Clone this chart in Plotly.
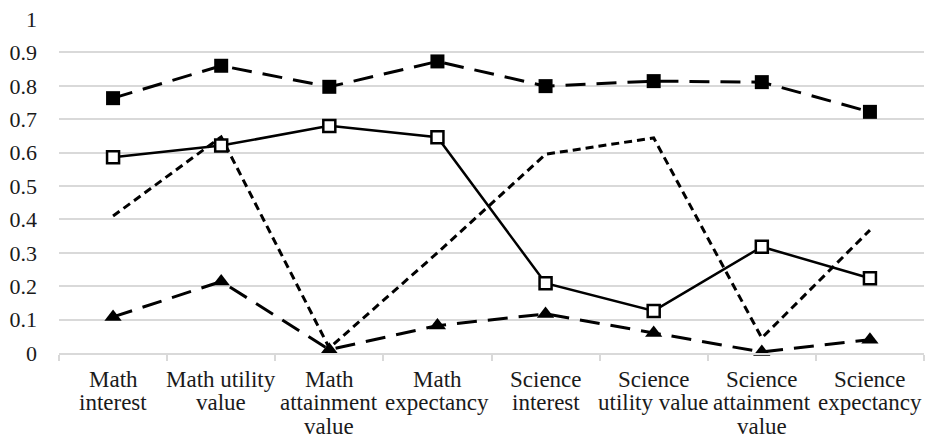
import plotly.graph_objects as go

categories = ["Math interest", "Math utility value", "Math attainment value",
              "Math expectancy", "Science interest", "Science utility value",
              "Science attainment value", "Science expectancy"]
category_label_lines = [["Math", "interest"], ["Math utility", "value"],
                        ["Math", "attainment", "value"], ["Math", "expectancy"],
                        ["Science", "interest"], ["Science", "utility value"],
                        ["Science", "attainment", "value"], ["Science", "expectancy"]]
y_tick_vals = [0, 0.1, 0.2, 0.3, 0.4, 0.5, 0.6, 0.7, 0.8, 0.9, 1]
y_tick_text = ["0", "0.1", "0.2", "0.3", "0.4", "0.5", "0.6", "0.7", "0.8", "0.9", "1"]

dotted_vals = [0.41, 0.647, 0.015, 0.30, 0.595, 0.644, 0.045, 0.368]
filled_sq_vals = [0.763, 0.86, 0.797, 0.873, 0.799, 0.814, 0.811, 0.722]
open_sq_vals = [0.586, 0.621, 0.68, 0.646, 0.209, 0.126, 0.318, 0.224]
triangle_vals = [0.108, 0.214, 0.01, 0.082, 0.117, 0.06, 0.003, 0.04]

fig = go.Figure()
fig.add_trace(go.Scatter(x=categories, y=dotted_vals, mode="lines",
                         line=dict(color="black", width=3, dash="8px,5px"),
                         cliponaxis=False))
fig.add_trace(go.Scatter(x=categories, y=filled_sq_vals, mode="lines+markers",
                         line=dict(color="black", width=3, dash="20px,11px"),
                         marker=dict(symbol="square", size=14, color="black"),
                         cliponaxis=False))
fig.add_trace(go.Scatter(x=categories, y=open_sq_vals, mode="lines+markers",
                         line=dict(color="black", width=2.5),
                         marker=dict(symbol="square", size=12, color="white",
                                     line=dict(color="black", width=2.5)),
                         cliponaxis=False))
fig.add_trace(go.Scatter(x=categories, y=triangle_vals, mode="lines+markers",
                         line=dict(color="black", width=3, dash="20px,11px"),
                         marker=dict(symbol="triangle-up", size=15, color="black"),
                         cliponaxis=False))

font = dict(family="Liberation Serif, Times New Roman, serif", size=23, color="#1a1a1a")
yfont = dict(family="Liberation Serif, Times New Roman, serif", size=22, color="#1a1a1a")

line_offsets = [-26, -49.5, -73]
annotations = []
for cat, lines in zip(categories, category_label_lines):
    for i, txt in enumerate(lines):
        annotations.append(dict(x=cat, xref="x", y=0, yref="paper", text=txt,
                                showarrow=False, xanchor="center", yanchor="middle",
                                yshift=line_offsets[i], font=font))

fig.update_layout(
    width=925, height=439,
    margin=dict(l=59, r=1, t=19, b=86, autoexpand=False),
    paper_bgcolor="white", plot_bgcolor="white",
    showlegend=False,
    font=font,
    annotations=annotations,
)
fig.update_xaxes(type="category", range=[-0.5, 7.5], showgrid=False,
                 showline=True, linecolor="#d9d9d9", linewidth=1.5,
                 ticks="outside", tickson="boundaries", ticklen=6,
                 tickcolor="#d9d9d9", tickwidth=1.5, showticklabels=False,
                 automargin=False)
fig.update_yaxes(range=[0, 1], showgrid=True,
                 gridcolor="#d9d9d9", gridwidth=1.5, zeroline=False,
                 showline=False, ticks="", tickfont=yfont,
                 tickvals=y_tick_vals, ticktext=y_tick_text,
                 ticklabelstandoff=21, automargin=False)

fig.write_html("out.html", config={"displayModeBar": False},
               post_script="document.body.style.margin='0';")
